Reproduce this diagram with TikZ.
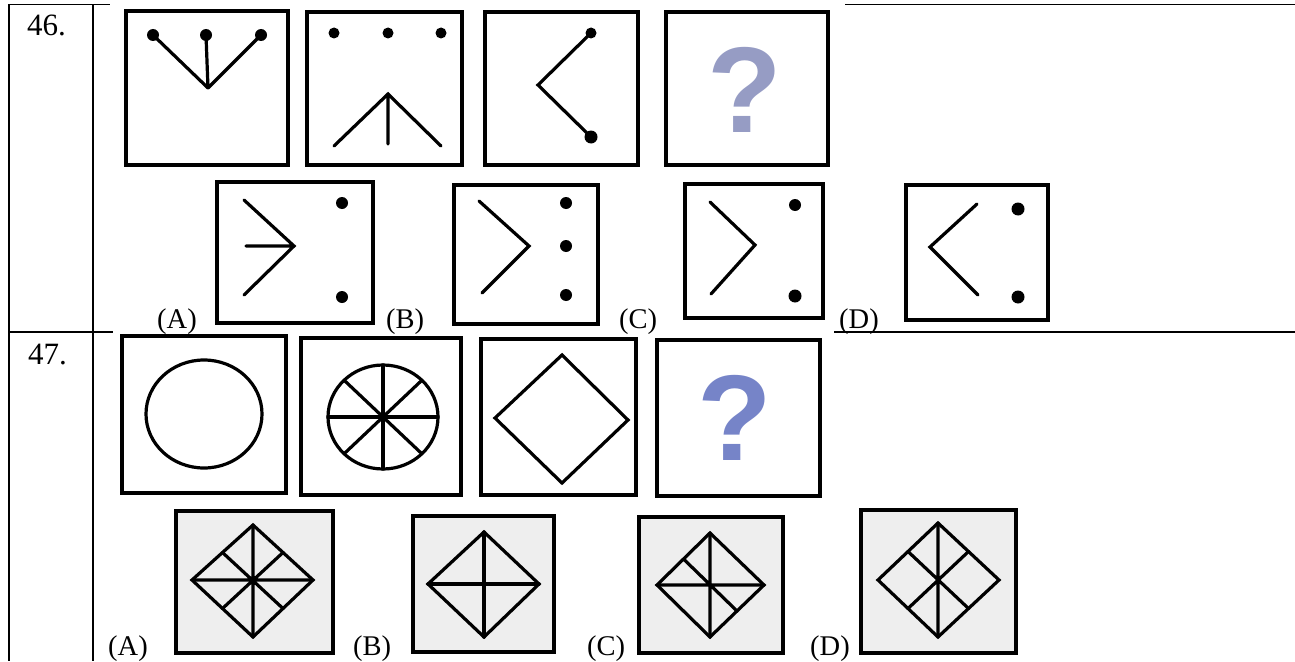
\documentclass[tikz,border=0pt]{standalone}
\usepackage{fontspec}
\setmainfont{Liberation Serif}
\setsansfont{Liberation Sans}
\usetikzlibrary{calc}
\definecolor{qa}{RGB}{150,156,196}
\definecolor{qb}{RGB}{118,132,200}
\definecolor{scan}{RGB}{238,238,238}
\begin{document}
\begin{tikzpicture}[x=1pt,y=-1pt,
  tline/.style={line width=1.7pt},
  pbox/.style={draw, line width=3.4pt},
  fig/.style={line width=3.2pt, line cap=round, line join=miter},
  numl/.style={font=\fontsize{31}{34}\selectfont, anchor=base west, inner sep=0pt},
  lbl/.style={font=\fontsize{28.5}{30}\selectfont, anchor=base west, inner sep=0pt},
  qm/.style={font=\sffamily\bfseries\fontsize{122}{124}\selectfont, inner sep=0pt}
]
\useasboundingbox (0,0) rectangle (1295,661);
% ---- table ----
\draw[tline] (9,4.5) -- (110,4.5);
\draw[tline] (845,4.5) -- (1295,4.5);
\draw[tline] (9,4.5) -- (9,661);
\draw[tline] (93,4.5) -- (93,661);
\draw[tline] (9,332) -- (113,332);
\draw[tline] (834,332) -- (1295,332);
\node[numl] (n46) at (27,36) {46.};
\node[numl] (n47) at (28,364) {47.};

% ---- 46 question figures ----
\draw[pbox] (126,11) rectangle (288,165);
\foreach \x in {153,206,261} {\fill (\x,35) circle (6);}
\draw[fig] (153,35) -- (208,88) (206,35) -- (208,88) (261,35) -- (208,88);

\draw[pbox] (307,12) rectangle (462,165);
\foreach \x in {334,388,441} {\fill (\x,33) circle (5.5);}
\draw[fig] (334,146) -- (388,94) -- (441,146) (388,94) -- (388,144);

\draw[pbox] (485,12) rectangle (638,165);
\fill (591,33) circle (5.5) (591,137) circle (6.5);
\draw[fig] (591,33) -- (538,85) -- (591,137);

\draw[pbox] (666,12) rectangle (828,165);
\node[qm, text=qa] (q46) at (745,90) {?};

% ---- 46 options ----
\draw[pbox] (217,182) rectangle (373,323);
\draw[fig] (244,200) -- (294,246) -- (244,295) (246,246) -- (294,246);
\fill (342,203) circle (6) (342,297) circle (6);

\draw[pbox] (454,185) rectangle (598,324);
\draw[fig] (479,201) -- (529,246) -- (482,293);
\fill (566,203) circle (6) (566,246) circle (6) (566,295) circle (6);

\draw[pbox] (685,184) rectangle (823,318);
\draw[fig] (710,202) -- (755,245) -- (711,294);
\fill (795,205) circle (6) (795,296) circle (6.5);

\draw[pbox] (906,185) rectangle (1048,320);
\draw[fig] (977,204) -- (930,247) -- (978,295);
\fill (1018,209) circle (6.5) (1018,297) circle (6.5);

\node[lbl] (a46) at (157,328) {(A)};
\node[lbl] (b46) at (386,328) {(B)};
\node[lbl] (c46) at (619,328) {(C)};
\node[lbl] (d46) at (839,328) {(D)};

% ---- 47 question figures ----
\draw[pbox] (122,336) rectangle (286,493);
\draw[fig] (204,414) ellipse [x radius=58, y radius=54];

\draw[pbox] (301,338) rectangle (461,495);
\draw[fig] (383,417) ellipse [x radius=55, y radius=52];
\foreach \a in {0,45,...,315} {\draw[fig] (383,417) -- ({383+55*cos(\a)},{417+52*sin(\a)});}

\draw[pbox] (481,339) rectangle (636,495);
\draw[fig] (562,355) -- (628,420) -- (562,483) -- (495,418) -- cycle;

\draw[pbox] (657,340) rectangle (820,496);
\node[qm, text=qb] (q47) at (735,418) {?};

% ---- 47 options ----
% A
\draw[pbox, fill=scan] (176,511) rectangle (333,653);
\coordinate (AT) at (253,525); \coordinate (AL) at (192,580);
\coordinate (AR) at (313,580); \coordinate (AB) at (253,637);
\draw[fig] (AT) -- (AR) -- (AB) -- (AL) -- cycle;
\draw[fig] (AT) -- (AB) (AL) -- (AR)
  ($(AT)!0.5!(AL)$) -- ($(AR)!0.5!(AB)$)
  ($(AT)!0.5!(AR)$) -- ($(AL)!0.5!(AB)$);
% B
\draw[pbox, fill=scan] (413,516) rectangle (554,652);
\coordinate (BT) at (484,532); \coordinate (BL) at (428,584);
\coordinate (BR) at (539,584); \coordinate (BB) at (484,637);
\draw[fig] (BT) -- (BR) -- (BB) -- (BL) -- cycle;
\draw[fig] (BT) -- (BB) (BL) -- (BR);
% C
\draw[pbox, fill=scan] (639,517) rectangle (783,653);
\coordinate (CT) at (710,533); \coordinate (CL) at (657,585);
\coordinate (CR) at (764,585); \coordinate (CB) at (710,637);
\draw[fig] (CT) -- (CR) -- (CB) -- (CL) -- cycle;
\draw[fig] (CT) -- (CB) (CL) -- (CR)
  ($(CT)!0.5!(CL)$) -- ($(CR)!0.5!(CB)$);
% D
\draw[pbox, fill=scan] (861,510) rectangle (1016,653);
\coordinate (DT) at (938,523); \coordinate (DL) at (878,580);
\coordinate (DR) at (999,580); \coordinate (DB) at (938,637);
\draw[fig] (DT) -- (DR) -- (DB) -- (DL) -- cycle;
\draw[fig] (DT) -- (DB)
  ($(DT)!0.5!(DL)$) -- ($(DR)!0.5!(DB)$)
  ($(DT)!0.5!(DR)$) -- ($(DL)!0.5!(DB)$);

\node[lbl] (a47) at (108,655) {(A)};
\node[lbl] (b47) at (353,655) {(B)};
\node[lbl] (c47) at (587,655) {(C)};
\node[lbl] (d47) at (810,655) {(D)};
\end{tikzpicture}
\end{document}
